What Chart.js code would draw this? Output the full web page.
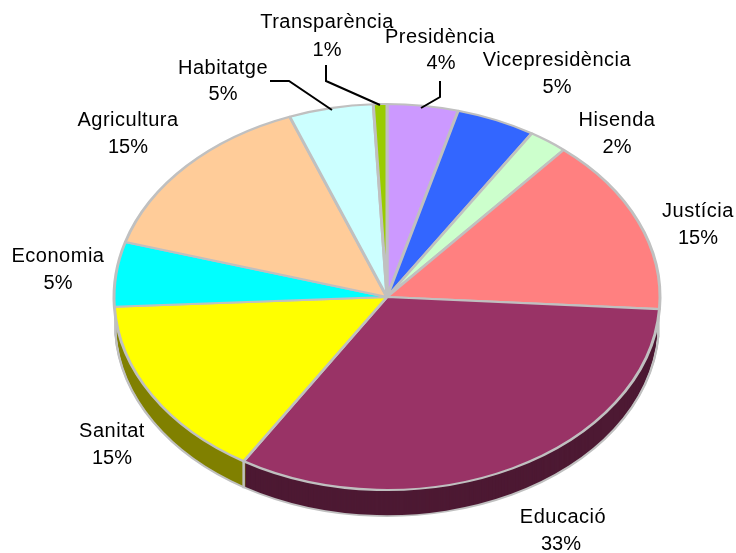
<!DOCTYPE html>
<html>
<head>
<meta charset="utf-8">
<title>Pressupost</title>
<script src="https://cdn.jsdelivr.net/npm/chart.js@4/dist/chart.umd.min.js"></script>
<style>
    html, body { margin: 0; padding: 0; background: #fff; }
    canvas { display: block; }
</style>
</head>
<body>
<canvas id="myChart" width="736" height="553"></canvas>
<script>
const categories = ['Presidència', 'Vicepresidència', 'Hisenda', 'Justícia', 'Educació', 'Sanitat', 'Economia', 'Agricultura', 'Habitatge', 'Transparència'];
// slice sizes, the printed labels are the rounded ones
const values = [4.2, 4.7, 2.3, 14.8, 32.8, 15.4, 5.4, 14.6, 5.0, 0.8];
const percentLabels = ['4%', '5%', '2%', '15%', '33%', '15%', '5%', '15%', '5%', '1%'];
const colors = ['#CC99FF', '#3366FF', '#CCFFCC', '#FF8080', '#993366', '#FFFF00', '#00FFFF', '#FFCC99', '#CCFFFF', '#99CC00'];
const sideColors = { 4: '#4D1933', 5: '#808000' }; // only the two front slices show a wall

// label centres, name line then percent line
const labelPositions = [
    [440, 37, 441, 63], [557, 60, 557, 87], [617, 120, 617, 147], [698, 211, 698, 238], [563, 517, 561, 544],
    [112, 431, 112, 458], [58, 256, 58, 283], [128, 120, 128, 147], [223, 68, 223, 94], [327, 22, 327, 50]
];
const leaderLines = [
    [[326, 65], [326, 81], [380, 105]],
    [[440, 81], [440, 97], [421, 108]],
    [[270, 81], [289, 81], [332, 110]]
];

const squash = 193 / 273;
const depth = 27;
const wallInset = 2.5;

function squashCtx(ctx, arc, dy) {
    ctx.translate(arc.x, arc.y + dy);
    ctx.scale(1, squash);
    ctx.translate(-arc.x, -arc.y);
}

// draw the arc with other options for a moment
function drawArcWith(arc, ctx, fill, inset) {
    const savedOptions = arc.options;
    const savedRadius = arc.outerRadius;
    arc.options = Object.assign({}, savedOptions, { backgroundColor: fill, borderColor: fill, borderWidth: 0 });
    arc.outerRadius = savedRadius - inset;
    arc.draw(ctx);
    arc.options = savedOptions;
    arc.outerRadius = savedRadius;
}

const pie3d = {
    id: 'pie3d',
    beforeDatasetsDraw(chart) {
        const ctx = chart.ctx;
        const arcs = chart.getDatasetMeta(0).data;
        const front = [4, 5];
        // gray column first, then the inset wall on top of it
        for (let dy = depth; dy > 0; dy--) {
            front.forEach((i) => {
                ctx.save();
                squashCtx(ctx, arcs[i], dy);
                drawArcWith(arcs[i], ctx, '#C0C0C0', 0);
                ctx.restore();
            });
        }
        for (let dy = depth; dy > 0; dy--) {
            front.forEach((i) => {
                ctx.save();
                squashCtx(ctx, arcs[i], dy);
                drawArcWith(arcs[i], ctx, sideColors[i], wallInset);
                ctx.restore();
            });
        }
        // seam between the two front walls
        const seam = arcs[4];
        const sx = seam.x + seam.outerRadius * Math.cos(seam.endAngle);
        const sy = seam.y + seam.outerRadius * squash * Math.sin(seam.endAngle);
        ctx.save();
        ctx.strokeStyle = '#C0C0C0';
        ctx.lineWidth = 2.5;
        ctx.beginPath();
        ctx.moveTo(sx, sy);
        ctx.lineTo(sx, sy + depth);
        ctx.stroke();
        ctx.restore();
        // top face, restored in afterDatasetsDraw
        ctx.save();
        squashCtx(ctx, arcs[0], 0);
    },
    afterDatasetsDraw(chart) {
        const ctx = chart.ctx;
        ctx.restore();

        ctx.save();
        ctx.strokeStyle = '#000';
        ctx.lineWidth = 2;
        leaderLines.forEach((line) => {
            ctx.beginPath();
            line.forEach((p, i) => (i ? ctx.lineTo(p[0], p[1]) : ctx.moveTo(p[0], p[1])));
            ctx.stroke();
        });

        ctx.fillStyle = '#000';
        ctx.font = '20px "Liberation Sans"';
        ctx.textAlign = 'center';
        ctx.textBaseline = 'middle';
        categories.forEach((name, i) => {
            const pos = labelPositions[i];
            ctx.letterSpacing = '0.5px';
            ctx.fillText(name, pos[0], pos[1]);
            ctx.letterSpacing = '0px';
            ctx.fillText(percentLabels[i], pos[2], pos[3]);
        });
        ctx.restore();
    }
};

new Chart(document.getElementById('myChart').getContext('2d'), {
    type: 'pie',
    data: {
        labels: categories,
        datasets: [{
            data: values,
            backgroundColor: colors,
            borderColor: '#C0C0C0',
            borderWidth: 3,
            borderAlign: 'center',
            radius: 273
        }]
    },
    options: {
        responsive: false,
        animation: false,
        layout: { padding: { left: 38, top: 41 } },
        plugins: { legend: { display: false }, tooltip: { enabled: false } }
    },
    plugins: [pie3d]
});
</script>
</body>
</html>
